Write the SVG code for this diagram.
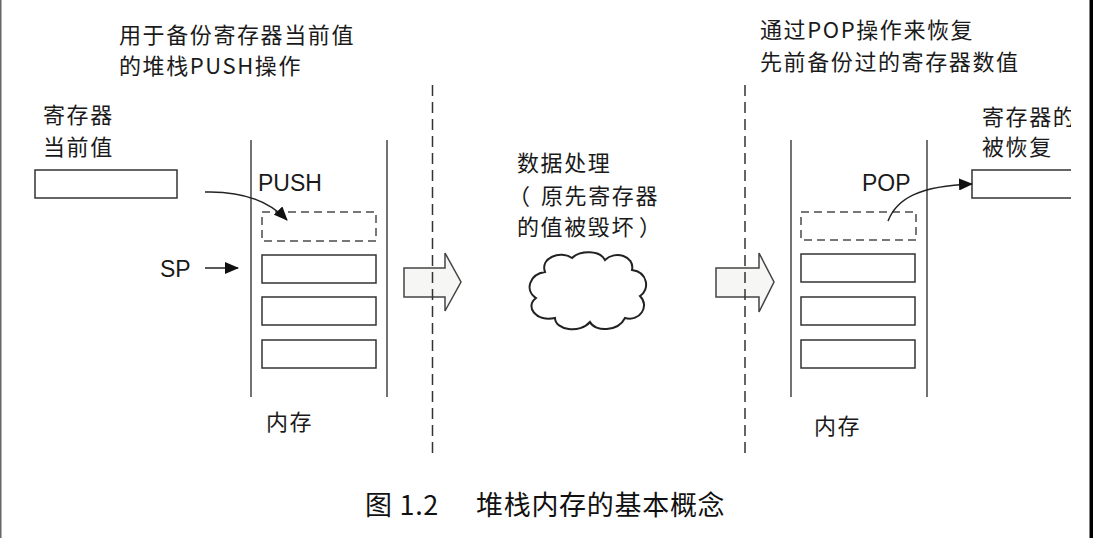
<svg xmlns="http://www.w3.org/2000/svg" width="1094" height="538" viewBox="0 0 1094 538">
<style>
.cjk{font-family:"Noto Sans CJK SC","Noto Sans",sans-serif;font-size:22px;letter-spacing:1.6px;fill:#1a1a1a}
.lat{font-family:"Liberation Sans",Arial,sans-serif;font-size:23px;fill:#1a1a1a}
.cap{font-family:"Noto Sans CJK SC","Noto Sans",sans-serif;font-size:27px;letter-spacing:0.7px;fill:#111}
.col{stroke:#444;stroke-width:1.5;fill:none}
.slot{fill:#fff;stroke:#333;stroke-width:1.5}
.dslot{fill:none;stroke:#777;stroke-width:2;stroke-dasharray:8 5}
.div{stroke:#333;stroke-width:1.5;stroke-dasharray:11 6;fill:none}
.big{fill:#f6f7f5;stroke:#444;stroke-width:1.5;stroke-linejoin:miter}
.con{fill:none;stroke:#222;stroke-width:1.5}
</style>
<defs>
<marker id="ah" markerUnits="userSpaceOnUse" markerWidth="14" markerHeight="12" refX="13" refY="6" orient="auto">
<path d="M0,0 L14,6 L0,12 Z" fill="#111"/>
</marker>
<clipPath id="clipR"><rect x="0" y="0" width="1071" height="538"/></clipPath>
</defs>
<rect width="1094" height="538" fill="#fff"/>
<line x1="0.75" y1="0" x2="0.75" y2="538" stroke="#666" stroke-width="1.5"/>
<rect x="1089.5" y="0" width="3.5" height="538" fill="#000"/>

<g id="label-push-desc">
<text class="cjk" x="119" y="43">用于备份寄存器当前值</text>
<text class="cjk" x="119" y="74">的堆栈PUSH操作</text>
</g>
<g id="register-current">
<text class="cjk" x="43" y="123">寄存器</text>
<text class="cjk" x="43" y="155">当前值</text>
<rect class="slot" x="35" y="170" width="142" height="28"/>
</g>
<g id="memory-left">
<line class="col" x1="251" y1="140" x2="251" y2="397"/>
<line class="col" x1="387" y1="140" x2="387" y2="397"/>
<text class="lat" x="258" y="191">PUSH</text>
<rect class="dslot" x="262" y="212" width="114" height="29"/>
<rect class="slot" x="262" y="255" width="114" height="28"/>
<rect class="slot" x="262" y="297" width="114" height="28"/>
<rect class="slot" x="262" y="340" width="114" height="28"/>
<text class="cjk" x="266" y="430">内存</text>
</g>
<g id="sp-label">
<text class="lat" x="160" y="277">SP</text>
</g>
<g id="arrow-big-1">
<polygon class="big" points="404,268 445,268 445,253 461,282 445,311 445,297 404,297"/>
</g>
<g id="processing">
<text class="cjk" x="517" y="171">数据处理</text>
<text class="cjk" y="204"><tspan x="508">（</tspan><tspan x="541">原先寄存器</tspan></text>
<text class="cjk" x="517" y="235">的值被毁坏<tspan dx="4">）</tspan></text>
<path d="M545,272 C540,258 560,250 572,258 C580,250 600,250 605,260 C615,250 635,256 632,270 C648,272 650,290 640,296 C650,306 640,322 625,318 C618,332 595,332 590,322 C580,334 555,330 555,318 C535,322 525,306 536,298 C524,290 530,274 545,272 Z" fill="#fff" stroke="#222" stroke-width="2"/>
</g>
<g id="arrow-big-2">
<polygon class="big" points="716,268 759,268 759,253 774,282 759,312 759,297 716,297"/>
</g>
<g id="label-pop-desc">
<text class="cjk" x="760" y="38">通过POP操作来恢复</text>
<text class="cjk" x="760" y="70">先前备份过的寄存器数值</text>
</g>
<g id="memory-right">
<line class="col" x1="791" y1="140" x2="791" y2="397"/>
<line class="col" x1="927" y1="140" x2="927" y2="397"/>
<text class="lat" x="862" y="191">POP</text>
<rect class="dslot" x="801" y="212" width="115" height="28"/>
<rect class="slot" x="801" y="254" width="114" height="28"/>
<rect class="slot" x="801" y="297" width="114" height="28"/>
<rect class="slot" x="801" y="340" width="114" height="28"/>
<text class="cjk" x="814" y="434">内存</text>
</g>
<g id="register-restored" clip-path="url(#clipR)">
<text class="cjk" x="982" y="125">寄存器的</text>
<text class="cjk" x="982" y="155">被恢复</text>
<rect class="slot" x="972" y="170" width="130" height="28"/>
</g>
<g id="dividers">
<line class="div" x1="432.5" y1="85" x2="432.5" y2="455"/>
<line class="div" x1="745" y1="85" x2="745" y2="455"/>
</g>
<g id="connectors">
<path class="con" d="M205,268 L238,268" marker-end="url(#ah)"/>
<path class="con" d="M205,192 C240,191 268,200 287,220" marker-end="url(#ah)"/>
<path class="con" d="M888,221 C897,198 920,186 972,184" marker-end="url(#ah)"/>
</g>
<g id="caption">
<text class="cap" x="365" y="515">图 1.2</text>
<text class="cap" x="476" y="515">堆栈内存的基本概念</text>
</g>
</svg>
